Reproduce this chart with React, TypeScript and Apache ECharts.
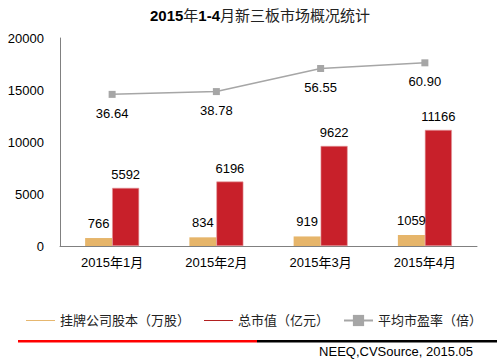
import React, { useEffect, useRef } from "react";
import * as echarts from "echarts";

const categories = ["2015年1月", "2015年2月", "2015年3月", "2015年4月"];
const shareCapital = [766, 834, 919, 1059];
const marketValue = [5592, 6196, 9622, 11166];
const peRatio = [36.64, 38.78, 56.55, 60.9];
const yTicks = [0, 5000, 10000, 15000, 20000];

const FONT = "'Liberation Sans', Arial, 'Noto Sans CJK SC', sans-serif";
const ORANGE = "#E6B56A";
const RED = "#C8202A";
const GRAY = "#A6A6A6";

export default function App() {
  const ref = useRef<HTMLDivElement>(null);
  useEffect(() => {
    if (!ref.current) return;
    const chart = echarts.init(ref.current, undefined, { renderer: "svg" });
    chart.setOption({
      animation: false,
      textStyle: { fontFamily: FONT },
      title: {
        text: "{b|2015}{n|年}{b|1-4}{n|月新三板市场概况统计}",
        left: 255,
        textAlign: "center",
        top: 3,
        textStyle: {
          rich: {
            b: { fontFamily: FONT, fontSize: 15, fontWeight: "bold", color: "#000" },
            n: { fontFamily: FONT, fontSize: 15, fontWeight: "normal", color: "#222" },
          },
        },
      },
      grid: { left: 60, right: 20, top: 38, bottom: 114 },
      legend: {
        left: 21,
        top: 309,
        width: 476,
        itemWidth: 29,
        itemHeight: 14,
        itemGap: 14,
        textStyle: { fontFamily: FONT, fontSize: 13, color: "#222" },
        data: [
          {
            name: "挂牌公司股本（万股）",
            icon: "path://M0,0L30,0L30,1L0,1Z",
            itemStyle: { color: ORANGE, borderWidth: 0 },
          },
          {
            name: "总市值（亿元）",
            icon: "path://M0,0L30,0L30,1L0,1Z",
            itemStyle: { color: "#B01818", borderWidth: 0 },
          },
          { name: "平均市盈率（倍）" },
        ],
      },
      xAxis: {
        type: "category",
        data: categories,
        axisLine: { lineStyle: { color: "#808080", width: 1 } },
        axisTick: { show: false },
        axisLabel: { fontFamily: FONT, fontSize: 13, color: "#000", margin: 10 },
      },
      yAxis: [
        {
          type: "value",
          min: yTicks[0],
          max: yTicks[yTicks.length - 1],
          interval: 5000,
          axisLine: { show: true, lineStyle: { color: "#808080", width: 1 } },
          axisTick: { show: false },
          splitLine: { show: false },
          axisLabel: {
            fontFamily: FONT,
            fontSize: 13,
            color: "#000",
            margin: 16,
            formatter: (v: number) => String(v),
          },
        },
        {
          type: "value",
          min: -80,
          max: 80,
          show: false,
          splitLine: { show: false },
        },
      ],
      series: [
        {
          name: "挂牌公司股本（万股）",
          type: "bar",
          data: shareCapital,
          barWidth: 27,
          barGap: "0%",
          itemStyle: { color: ORANGE },
          label: { show: true, position: "top", distance: 8, fontFamily: FONT, fontSize: 13, color: "#000" },
        },
        {
          name: "总市值（亿元）",
          type: "bar",
          data: marketValue,
          barWidth: 27,
          barGap: "0%",
          itemStyle: { color: RED, borderColor: "#E39CA0", borderWidth: 0.6 },
          label: { show: true, position: "top", distance: 7, fontFamily: FONT, fontSize: 13, color: "#000" },
        },
        {
          name: "平均市盈率（倍）",
          type: "line",
          yAxisIndex: 1,
          data: peRatio,
          symbol: "rect",
          symbolSize: 7,
          lineStyle: { color: GRAY, width: 1.5 },
          itemStyle: { color: GRAY },
          label: {
            show: true,
            position: "bottom",
            distance: 9,
            fontFamily: FONT,
            fontSize: 13,
            color: "#000",
            formatter: (p: any) => Number(p.value).toFixed(2),
          },
        },
      ],
      graphic: [
        { type: "rect", shape: { x: 18, y: 340, width: 239, height: 2.5 }, style: { fill: "#FF0000" } },
        { type: "rect", shape: { x: 257, y: 340, width: 240, height: 2.5 }, style: { fill: "#000" } },
        {
          type: "text",
          x: 473,
          y: 351,
          style: {
            text: "NEEQ,CVSource, 2015.05",
            fontFamily: FONT,
            fontSize: 13,
            fill: "#000",
            textAlign: "right",
            textVerticalAlign: "middle",
          },
        },
      ],
    });
    return () => chart.dispose();
  }, []);
  return <div ref={ref} style={{ width: 497, height: 360, position: "absolute", left: 0, top: 0 }} />;
}
